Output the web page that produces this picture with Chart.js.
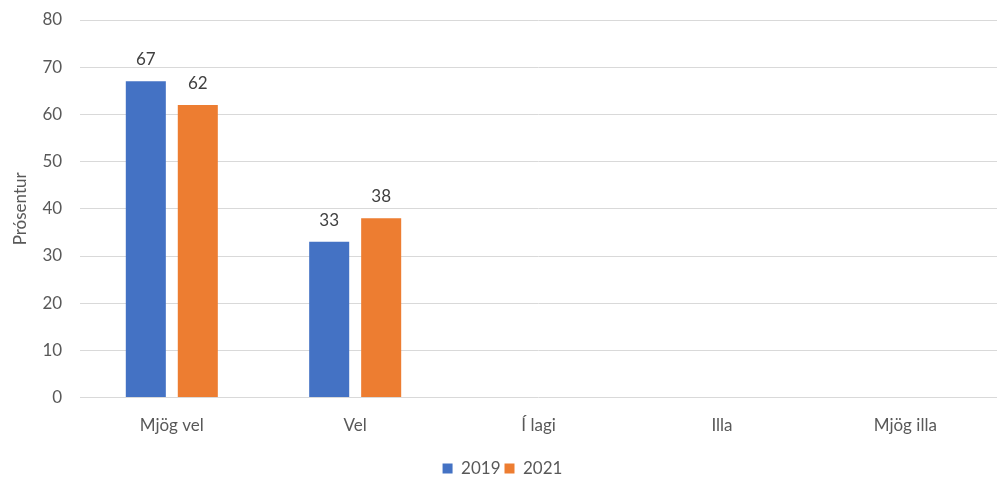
<!DOCTYPE html>
<html>
<head>
<meta charset="utf-8">
<script src="https://cdn.jsdelivr.net/npm/chart.js@4/dist/chart.umd.min.js"></script>
<style>
html,body{margin:0;padding:0;background:#fff;}
#wrap{width:997px;height:485px;position:relative;}
</style>
</head>
<body>
<div id="wrap"><canvas id="c" width="997" height="485"></canvas></div>
<script>
const categories = ["Mjög vel", "Vel", "Í lagi", "Illa", "Mjög illa"];
const values2019 = [67, 33, null, null, null];
const values2021 = [62, 38, null, null, null];
const seriesNames = ["2019", "2021"];
const yTicks = [0, 10, 20, 30, 40, 50, 60, 70, 80];

const FONT = "Lato";

const labelPlugin = {
  id: 'barLabels',
  afterDatasetsDraw(chart) {
    const ctx = chart.ctx;
    ctx.save();
    ctx.font = '17px ' + FONT;
    ctx.fillStyle = '#404040';
    ctx.textAlign = 'center';
    ctx.textBaseline = 'bottom';
    chart.data.datasets.forEach((ds, i) => {
      const meta = chart.getDatasetMeta(i);
      meta.data.forEach((bar, j) => {
        const v = ds.data[j];
        if (v === null || v === undefined) return;
        ctx.fillText(String(v), bar.x, bar.y - 13);
      });
    });
    ctx.restore();
  }
};

new Chart(document.getElementById('c'), {
  type: 'bar',
  data: {
    labels: categories,
    datasets: [
      { label: seriesNames[0], data: values2019, backgroundColor: '#4472C4', borderWidth: 0 },
      { label: seriesNames[1], data: values2021, backgroundColor: '#ED7D31', borderWidth: 0 }
    ]
  },
  options: {
    responsive: false,
    animation: false,
    devicePixelRatio: 1,
    layout: { padding: { top: 20, right: 0, left: 8, bottom: -2 } },
    categoryPercentage: 0.567,
    barPercentage: 0.77,
    plugins: {
      legend: {
        position: 'bottom',
        labels: {
          font: { family: FONT, size: 17 },
          color: '#595959',
          boxWidth: 10,
          boxHeight: 10,
          padding: 4
        }
      },
      tooltip: { enabled: false }
    },
    scales: {
      x: {
        grid: { display: false },
        border: { display: false },
        ticks: { font: { family: FONT, size: 17 }, color: '#595959', padding: 10 },
        afterFit(axis) { axis.height += 10; }
      },
      y: {
        min: 0, max: 80,
        afterBuildTicks(axis) { axis.ticks = yTicks.map(v => ({ value: v })); },
        afterFit(axis) { axis.width += 10; },
        grid: { color: '#d9d9d9', lineWidth: 1, drawTicks: true, tickLength: 18, tickColor: 'rgba(0,0,0,0)' },
        border: { display: false },
        ticks: { font: { family: FONT, size: 17 }, color: '#595959', padding: 0 },
        title: { display: true, text: 'Prósentur', font: { family: FONT, size: 17 }, color: '#595959', padding: 2 }
      }
    }
  },
  plugins: [labelPlugin]
});
</script>
</body>
</html>
